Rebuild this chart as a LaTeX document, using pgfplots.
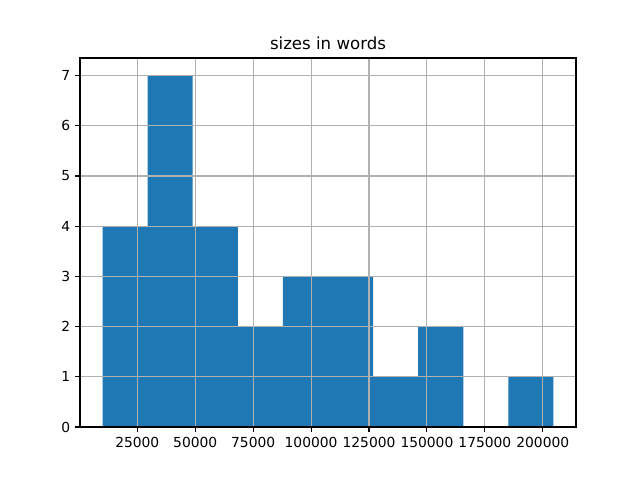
\documentclass[border=0pt]{standalone}
\usepackage{fontspec}
\setmainfont{DejaVu Sans}
\usepackage{pgfplots}
\pgfplotsset{compat=1.18}
\definecolor{mplblue}{HTML}{1F77B4}
\definecolor{gridgray}{HTML}{B0B0B0}
\begin{document}
\begin{tikzpicture}
\useasboundingbox (-0.8in,-0.53in) rectangle (5.6in,4.27in);
\begin{axis}[
  at={(0,0)}, anchor=south west,
  scale only axis, width=4.96in, height=3.69in,
  xmin=270, xmax=214330, ymin=0, ymax=7.35,
  xtick={25000,50000,75000,100000,125000,150000,175000,200000},
  xticklabels={25000,50000,75000,100000,125000,150000,175000,200000},
  ytick={0,1,2,3,4,5,6,7},
  yticklabels={0,1,2,3,4,5,6,7},
  scaled ticks=false,
  tick label style={font=\fontsize{10}{12}\selectfont, text=black},
  tick align=outside, major tick length=3.5pt,
  tick style={black, line width=0.8pt},
  xtick pos=bottom, ytick pos=left,
  axis line style={black, line width=0.8pt},
  grid=major, major grid style={gridgray, line width=0.8pt},
  axis on top,
  title={sizes in words},
  title style={font=\fontsize{12}{14}\selectfont, yshift=-3.2pt},
]
\addplot[ybar interval, fill=mplblue, draw=none] coordinates {
(10000,4) (29460,7) (48920,4) (68380,2) (87840,3) (107300,3) (126760,1) (146220,2) (165680,0) (185140,1) (204600,1)
};
\end{axis}
\end{tikzpicture}
\end{document}
